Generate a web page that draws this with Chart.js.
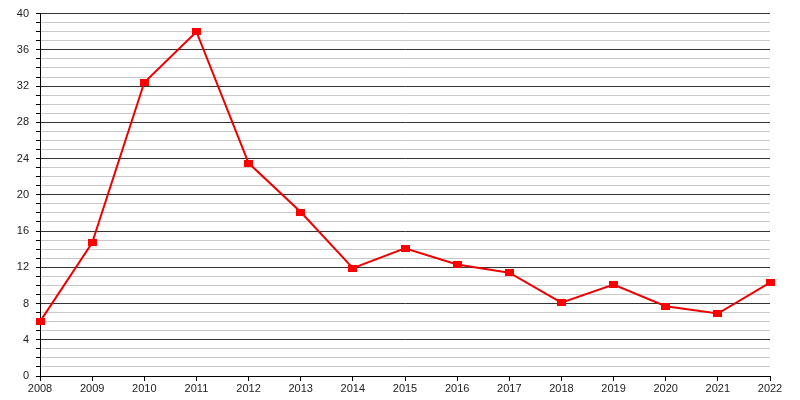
<!DOCTYPE html>
<html>
<head>
<meta charset="utf-8">
<script src="https://cdn.jsdelivr.net/npm/chart.js@4"></script>
<style>
  html, body { margin: 0; padding: 0; background: #fff; }
</style>
</head>
<body>
<canvas id="lineChart" width="800" height="400"></canvas>
<script>
// years on the x axis
const years = ['2008', '2009', '2010', '2011', '2012', '2013', '2014', '2015',
  '2016', '2017', '2018', '2019', '2020', '2021', '2022'];
// values
const values = [6.0, 14.7, 32.4, 38.0, 23.5, 18.1, 11.9, 14.1, 12.3, 11.4, 8.1, 10.1, 7.7, 6.9, 10.3];
// y axis range
const yMin = 0;
const yMax = 40;
const yLabelStep = 4;

// small red rectangle marker
const marker = document.createElement('canvas');
marker.width = 9;
marker.height = 7;
const mctx = marker.getContext('2d');
mctx.fillStyle = '#ff0000';
mctx.fillRect(0, 0, 9, 7);

const ctx = document.getElementById('lineChart').getContext('2d');
new Chart(ctx, {
  type: 'line',
  data: {
    labels: years,
    datasets: [{
      data: values,
      borderColor: '#ee0000',
      borderWidth: 2,
      pointStyle: marker,
      pointRadius: 4,
      tension: 0
    }]
  },
  options: {
    responsive: false,
    animation: false,
    devicePixelRatio: 1,
    layout: { padding: { top: 9, right: 30, left: 0, bottom: 0 } },
    plugins: { legend: { display: false }, tooltip: { enabled: false } },
    scales: {
      x: {
        offset: false,
        grid: { display: true, drawOnChartArea: false, tickLength: 5, color: '#000' },
        border: { color: '#000', width: 1 },
        ticks: {
          color: '#222', padding: 1, maxRotation: 0, autoSkip: false,
          font: { family: 'Liberation Sans', size: 11 }
        },
        afterFit: s => { s.height = 24; }
      },
      y: {
        min: yMin,
        max: yMax,
        grid: {
          tickLength: 4,
          tickColor: '#000',
          color: c => (c.tick && c.tick.value % yLabelStep === 0) ? '#333' : '#c8c8c8',
          lineWidth: 1
        },
        border: { color: '#000', width: 1 },
        ticks: {
          stepSize: 1,
          autoSkip: false,
          color: '#222',
          padding: 7,
          font: { family: 'Liberation Sans', size: 11 },
          callback: v => (v % yLabelStep === 0 ? v : '')
        },
        afterFit: s => { s.width = 40; }
      }
    }
  }
});
</script>
</body>
</html>
